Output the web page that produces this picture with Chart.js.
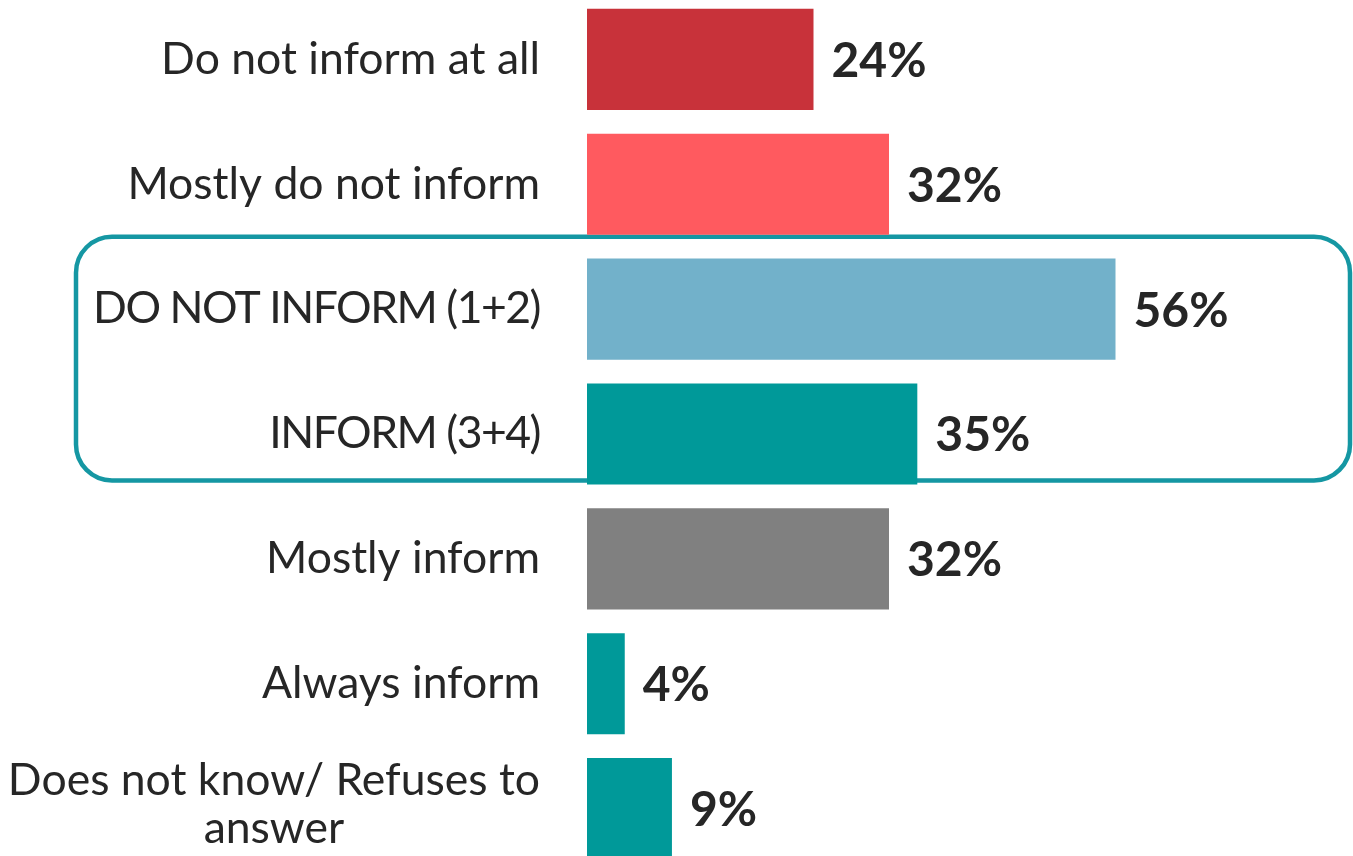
<!DOCTYPE html>
<html lang="en">
<head>
    <meta charset="UTF-8">
    <title>Informing</title>
    <script src="https://cdn.jsdelivr.net/npm/chart.js"></script>
    <style>
        html, body { margin: 0; padding: 0; overflow: hidden; background: #fff; }
        .container { position: absolute; left: 0; top: -3px; width: 1353px; height: 874px; }
    </style>
</head>
<body>
    <div class="container">
        <canvas id="informChart" width="1353" height="874"></canvas>
    </div>
    <script>
        const categories = [
            ['Do not inform at all'],
            ['Mostly do not inform'],
            ['DO NOT INFORM (1+2)'],
            ['INFORM (3+4)'],
            ['Mostly inform'],
            ['Always inform'],
            ['Does not know/ Refuses to', 'answer']
        ];
        const values = [24, 32, 56, 35, 32, 4, 9];
        const barColors = ['#C8323A', '#FF5A5F', '#72B1CA', '#009999', '#808080', '#009999', '#009999'];

        const textColor = '#262626';
        const fontFamily = 'Lato, "Open Sans", sans-serif';

        // category labels, right aligned at the left of the bars
        const categoryLabels = {
            id: 'categoryLabels',
            afterDraw(chart) {
                const ctx = chart.ctx;
                const y = chart.scales.y;
                const right = 540;
                ctx.save();
                ctx.fillStyle = textColor;
                ctx.font = '44.5px ' + fontFamily;
                ctx.textBaseline = 'middle';
                ctx.textAlign = 'center';
                categories.forEach((lines, i) => {
                    const cy = y.getPixelForValue(i);
                    const lh = 48;
                    // capitals in Lato run wider than the original font
                    ctx.letterSpacing = lines[0] === lines[0].toUpperCase() ? '-1.5px' : '0px';
                    const maxW = Math.max(...lines.map(l => ctx.measureText(l).width));
                    const center = right - maxW / 2;
                    lines.forEach((line, j) => {
                        const ly = cy + (j - (lines.length - 1) / 2) * lh - (lines.length > 1 ? 4 : 0);
                        ctx.fillText(line, center, ly);
                    });
                });
                ctx.restore();
            }
        };

        // value labels at end of the bars
        const valueLabels = {
            id: 'valueLabels',
            afterDatasetsDraw(chart) {
                const ctx = chart.ctx;
                const meta = chart.getDatasetMeta(0);
                ctx.save();
                ctx.fillStyle = textColor;
                ctx.font = 'bold 48px ' + fontFamily;
                ctx.textAlign = 'left';
                ctx.textBaseline = 'middle';
                meta.data.forEach((bar, i) => {
                    ctx.fillText(values[i] + '%', bar.x + 18, bar.y + 2);
                });
                ctx.restore();
            }
        };

        // rounded frame around the two summary rows
        const summaryFrame = {
            id: 'summaryFrame',
            beforeDatasetsDraw(chart) {
                const ctx = chart.ctx;
                const y = chart.scales.y;
                const top = (y.getPixelForValue(1) + y.getPixelForValue(2)) / 2 - 10;
                const bottom = (y.getPixelForValue(3) + y.getPixelForValue(4)) / 2 - 16;
                const left = 76, right = 1350, r = 36;
                ctx.save();
                ctx.strokeStyle = '#1597A3';
                ctx.lineWidth = 4.5;
                ctx.beginPath();
                ctx.roundRect(left, top, right - left, bottom - top, r);
                ctx.stroke();
                ctx.restore();
            }
        };

        new Chart(document.getElementById('informChart').getContext('2d'), {
            type: 'bar',
            data: {
                labels: categories,
                datasets: [{
                    data: values,
                    backgroundColor: barColors,
                    barPercentage: 0.81,
                    categoryPercentage: 1
                }]
            },
            options: {
                indexAxis: 'y',
                responsive: false,
                animation: false,
                layout: { padding: { left: 587, right: 11, top: 0, bottom: 0 } },
                plugins: { legend: { display: false }, tooltip: { enabled: false } },
                scales: {
                    x: { display: false, min: 0, max: 80 },
                    y: { display: false }
                }
            },
            plugins: [summaryFrame, valueLabels, categoryLabels]
        });
    </script>
</body>
</html>
